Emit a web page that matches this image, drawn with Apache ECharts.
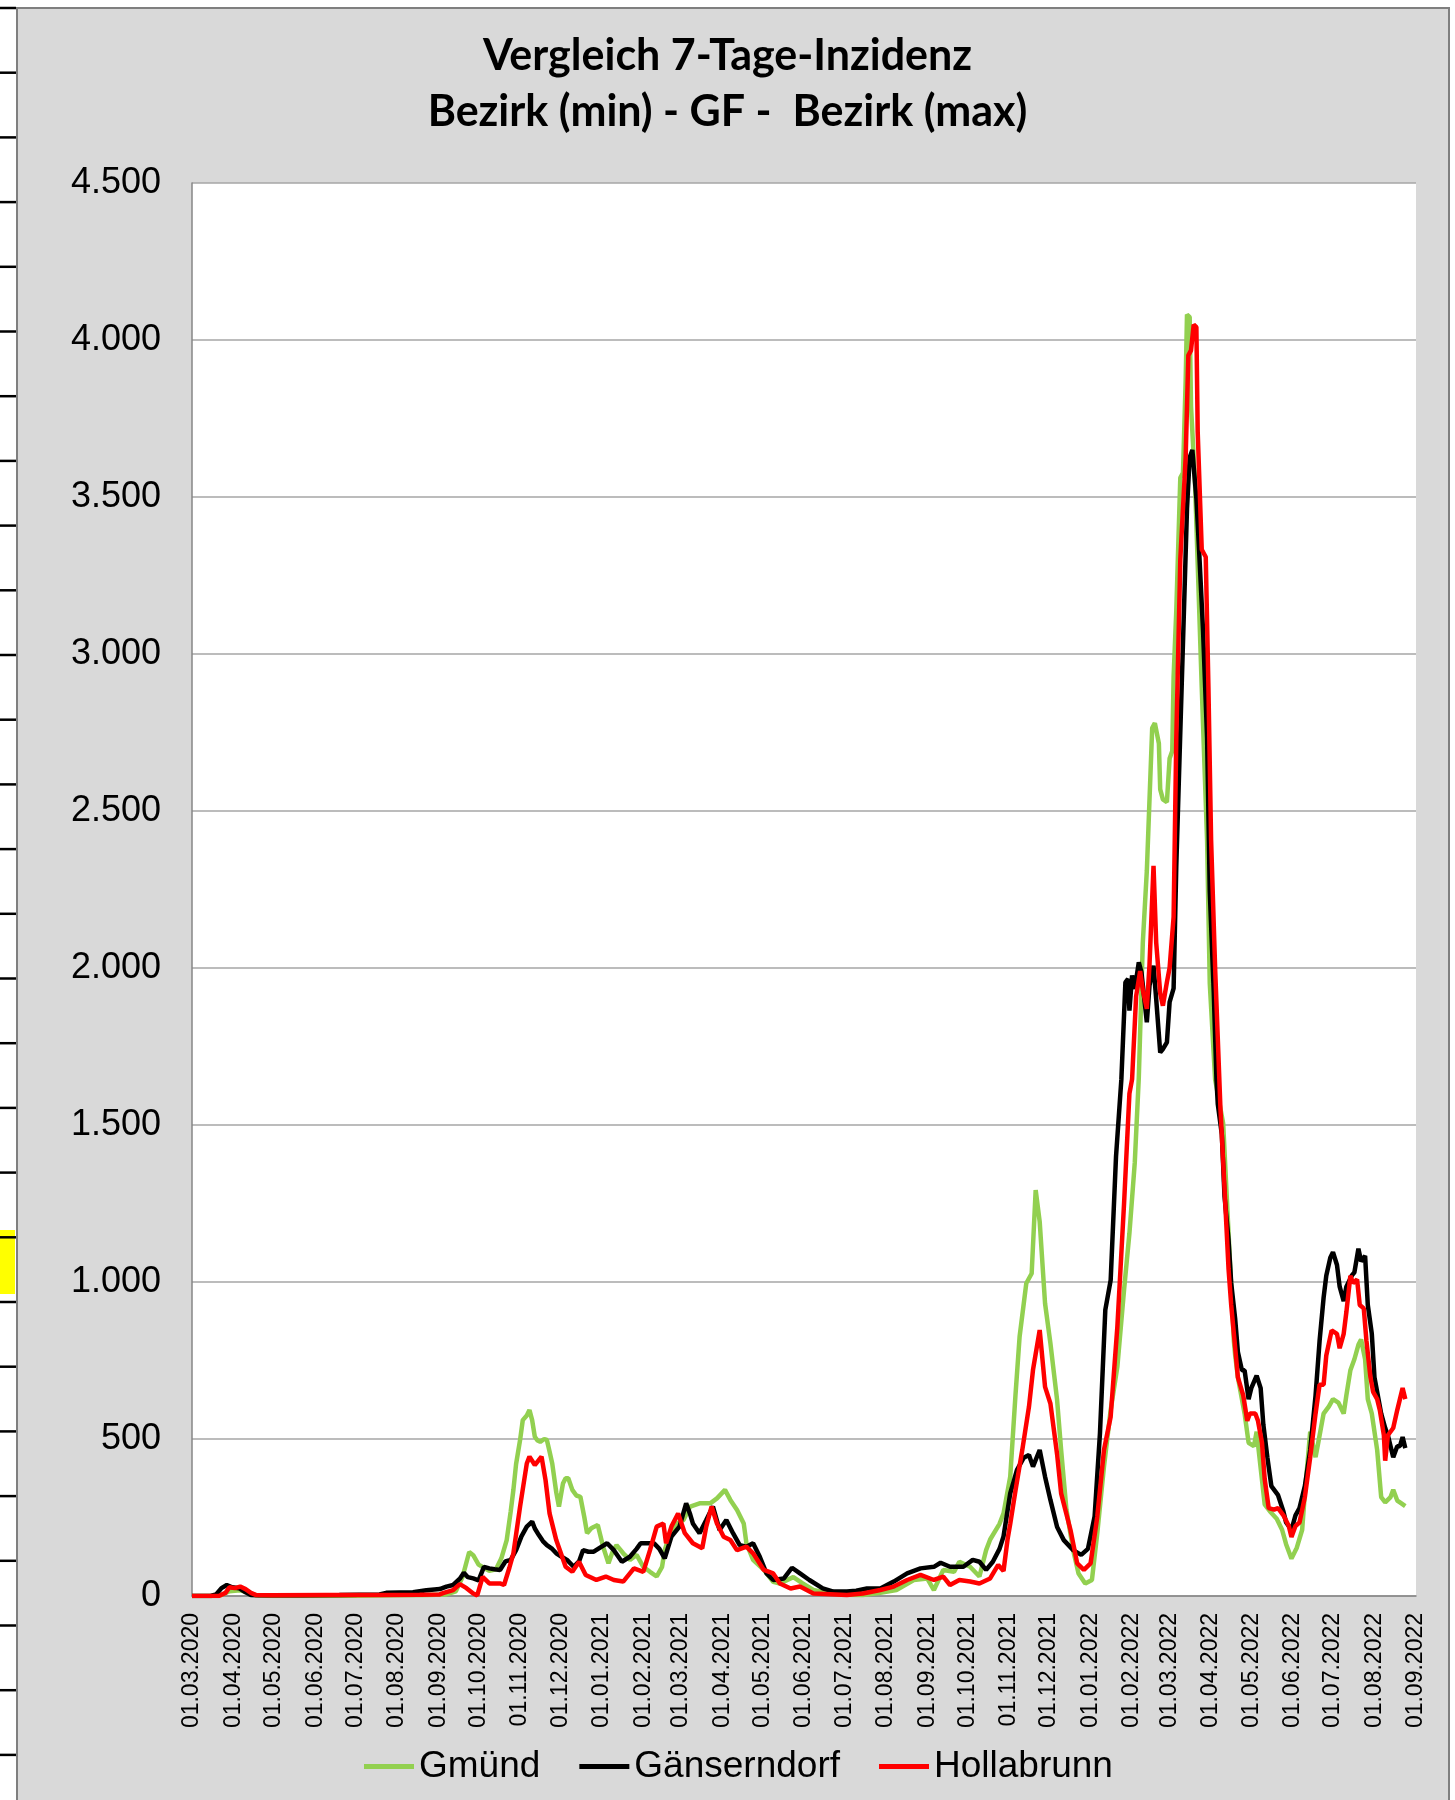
<!DOCTYPE html>
<html>
<head>
<meta charset="utf-8">
<script src="https://cdn.jsdelivr.net/npm/echarts@6/dist/echarts.min.js"></script>
<style>
html,body{margin:0;padding:0;background:#fff;}
#chart{width:1455px;height:1800px;}
</style>
</head>
<body>
<div id="chart"></div>
<script>
// ---- Data (x = days since 01.03.2020, y = 7-Tage-Inzidenz) ----
const seriesNames = ['Gmünd', 'Gänserndorf', 'Hollabrunn'];

const tickLabels = ['01.03.2020','01.04.2020','01.05.2020','01.06.2020','01.07.2020','01.08.2020','01.09.2020','01.10.2020','01.11.2020','01.12.2020',
  '01.01.2021','01.02.2021','01.03.2021','01.04.2021','01.05.2021','01.06.2021','01.07.2021','01.08.2021','01.09.2021','01.10.2021','01.11.2021','01.12.2021',
  '01.01.2022','01.02.2022','01.03.2022','01.04.2022','01.05.2022','01.06.2022','01.07.2022','01.08.2022','01.09.2022'];

const yTicks = [0, 500, 1000, 1500, 2000, 2500, 3000, 3500, 4000, 4500];

const gmuend = [
[0,0],[14,0],[22,3],[28,15],[36,18],[43,10],[48,2],[60,0],[90,0],[120,1],[150,2],[175,3],[190,5],[197,15],[202,60],[207,140],[210,130],[214,100],[218,90],[222,80],[227,85],[231,120],[235,178],[238,270],[240,338],[242,420],[245,497],[247,560],[250,575],[252,592],[254,560],[256,507],[258,495],[260,491],[263,500],[265,497],[267,460],[269,422],[272,330],[274,285],[277,358],[279,375],[281,375],[284,338],[287,320],[290,316],[293,250],[295,200],[298,215],[300,220],[303,226],[307,157],[311,104],[314,140],[317,162],[322,136],[327,115],[332,131],[337,93],[342,77],[347,62],[351,93],[353,146],[357,200],[362,231],[367,242],[372,285],[379,295],[387,295],[392,311],[398,338],[402,306],[407,274],[412,231],[414,168],[419,115],[427,83],[434,45],[439,40],[449,60],[456,40],[464,19],[476,8],[489,4],[501,3],[514,10],[526,19],[539,51],[549,56],[554,19],[561,83],[569,77],[573,109],[581,93],[588,62],[593,146],[596,180],[603,230],[606,263],[611,380],[615,645],[618,826],[623,996],[627,1027],[630,1293],[633,1192],[637,932],[641,805],[646,624],[649,465],[653,274],[658,146],[662,72],[667,40],[672,51],[676,200],[681,412],[686,592],[691,730],[696,975],[700,1155],[704,1380],[707,1650],[710,2081],[713,2309],[717,2764],[719,2780],[722,2715],[723,2569],[725,2537],[728,2528],[730,2667],[732,2691],[733,2927],[735,3138],[738,3561],[740,3577],[742,3870],[743,4081],[745,4073],[746,3789],[749,3545],[751,3285],[754,2894],[758,2407],[760,1951],[764,1645],[770,1505],[774,1158],[778,812],[779,766],[781,696],[786,581],[789,488],[793,477],[795,523],[798,408],[801,292],[805,269],[810,246],[814,211],[817,165],[821,119],[825,154],[829,211],[831,327],[835,523],[839,442],[841,488],[845,581],[849,604],[852,627],[856,616],[860,581],[862,639],[865,719],[868,754],[871,800],[873,817],[876,754],[878,627],[881,581],[885,465],[888,315],[891,298],[895,315],[897,338],[900,304],[902,298],[906,286]
];

const gaenserndorf = [
[0,0],[14,0],[18,5],[22,25],[26,35],[30,28],[35,25],[40,12],[44,3],[50,2],[80,2],[110,3],[140,5],[145,10],[165,12],[175,18],[185,22],[190,30],[195,35],[200,55],[203,74],[206,60],[210,56],[214,50],[218,93],[222,88],[226,85],[230,83],[234,110],[238,115],[242,146],[246,190],[250,221],[254,237],[256,215],[259,194],[262,175],[265,162],[269,150],[272,136],[276,125],[280,115],[285,93],[289,110],[292,146],[296,141],[300,141],[305,155],[310,168],[315,146],[321,109],[327,125],[332,150],[335,168],[340,168],[345,168],[349,150],[353,120],[358,189],[364,221],[369,295],[372,260],[374,231],[379,200],[384,242],[389,285],[394,210],[399,242],[404,200],[409,162],[414,157],[419,168],[424,125],[429,72],[434,51],[442,56],[448,90],[454,72],[461,51],[471,24],[479,14],[489,14],[496,17],[504,24],[514,24],[524,46],[534,72],[544,88],[554,93],[559,106],[566,93],[576,93],[583,115],[588,109],[593,83],[598,109],[603,150],[606,190],[611,327],[616,401],[621,440],[625,449],[628,412],[633,465],[637,380],[641,306],[646,220],[651,178],[658,146],[664,131],[669,150],[674,253],[678,518],[682,911],[686,1006],[690,1400],[694,1646],[697,1954],[699,1965],[700,1864],[702,1976],[704,1933],[707,2018],[709,1986],[713,1827],[715,1944],[718,2007],[720,1901],[723,1731],[725,1742],[728,1763],[730,1891],[733,1935],[735,2325],[739,2894],[743,3463],[745,3626],[747,3650],[749,3545],[750,3496],[752,3333],[755,3073],[758,2732],[760,2244],[763,1919],[765,1645],[766,1566],[769,1470],[771,1274],[774,1135],[776,997],[779,881],[781,777],[784,719],[786,719],[789,627],[791,662],[795,702],[798,662],[800,546],[803,442],[806,350],[811,321],[815,269],[817,234],[821,211],[824,257],[827,280],[831,350],[835,465],[839,639],[842,812],[845,950],[847,1020],[850,1077],[852,1095],[855,1054],[857,985],[860,939],[862,985],[866,1020],[868,1031],[871,1106],[873,1066],[876,1083],[878,927],[881,835],[883,696],[886,627],[888,581],[891,535],[893,512],[897,442],[900,477],[902,477],[904,506],[906,471]
];

const hollabrunn = [
[0,0],[20,0],[25,10],[28,28],[32,25],[36,30],[40,22],[44,10],[48,3],[60,2],[100,3],[140,3],[170,4],[185,5],[188,10],[195,19],[200,38],[205,25],[210,8],[213,2],[217,61],[222,40],[226,40],[230,40],[233,35],[237,90],[240,136],[245,285],[250,422],[252,444],[256,417],[261,444],[264,369],[267,263],[272,178],[279,93],[284,77],[289,109],[294,67],[302,51],[309,62],[315,51],[322,46],[330,88],[337,77],[342,146],[347,221],[352,231],[354,168],[358,221],[363,263],[368,200],[374,168],[381,152],[384,221],[388,285],[392,231],[397,189],[402,178],[407,146],[414,157],[419,136],[427,83],[434,72],[439,40],[447,24],[454,30],[464,8],[489,3],[501,8],[514,19],[524,30],[534,51],[544,67],[554,51],[561,62],[566,35],[573,51],[581,46],[588,40],[596,56],[602,99],[606,80],[609,180],[611,230],[615,338],[620,465],[625,603],[628,720],[633,847],[637,666],[641,613],[646,451],[649,327],[656,210],[661,104],[666,83],[671,104],[676,253],[681,465],[686,571],[691,858],[696,1250],[700,1600],[702,1646],[705,1910],[708,1990],[710,1930],[713,1870],[715,2010],[718,2325],[720,2081],[723,1919],[725,1880],[728,1955],[730,2000],[733,2163],[735,2732],[738,3301],[742,3626],[744,3951],[746,3967],[748,4049],[750,4041],[751,3707],[754,3333],[757,3309],[759,2894],[761,2407],[764,2000],[768,1550],[771,1300],[774,1043],[776,927],[779,789],[781,696],[785,639],[788,558],[790,581],[794,581],[796,558],[799,488],[801,373],[804,280],[808,275],[811,280],[815,257],[819,223],[821,188],[824,223],[827,234],[831,315],[835,442],[839,581],[842,673],[845,673],[847,766],[851,846],[855,835],[857,789],[860,835],[862,904],[865,1020],[867,997],[870,1008],[872,927],[875,916],[877,812],[880,696],[882,650],[885,627],[887,592],[890,512],[891,431],[893,512],[897,535],[900,592],[902,627],[904,662],[906,627]
];

// ---- Helpers ----
function dayOf(s) {
  const p = s.split('.').map(Number);
  return Math.round((Date.UTC(p[2], p[1] - 1, p[0]) - Date.UTC(2020, 2, 1)) / 86400000);
}
const tickDays = tickLabels.map(dayOf);
const labelByDay = {};
tickDays.forEach((d, i) => { labelByDay[d] = tickLabels[i]; });
function fmtThousands(v) {
  if (v < 1000) return String(v);
  const t = Math.floor(v / 1000), r = v % 1000;
  return t + '.' + String(r).padStart(3, '0');
}

// ---- Decorative spreadsheet edge ----
const W = 1455, H = 1800;
const graphics = [
  { type: 'rect', shape: { x: 0, y: 0, width: 17, height: H }, style: { fill: '#ffffff' }, silent: true },
  { type: 'rect', shape: { x: 0, y: 0, width: W, height: 8 }, style: { fill: '#ffffff' }, silent: true },
  { type: 'rect', shape: { x: 1450, y: 0, width: 5, height: H }, style: { fill: '#ffffff' }, silent: true },
  { type: 'rect', shape: { x: 0, y: 1230, width: 15, height: 64 }, style: { fill: '#ffff00' }, silent: true },
  { type: 'polyline', shape: { points: [[17, H], [17, 8], [1449, 8], [1449, H]] }, style: { stroke: '#7f7f7f', lineWidth: 2, fill: null }, silent: true }
];
for (let k = 0; k < 28; k++) {
  const y = 8 + k * 64.7;
  graphics.push({ type: 'line', shape: { x1: 0, y1: y, x2: 16, y2: y }, style: { stroke: '#000', lineWidth: 2.5 }, silent: true });
}

const chart = echarts.init(document.getElementById('chart'), null, { renderer: 'canvas', width: W, height: H });
chart.setOption({
  animation: false,
  backgroundColor: '#d9d9d9',
  graphic: graphics,
  title: {
    text: 'Vergleich 7-Tage-Inzidenz\nBezirk (min) - GF -  Bezirk (max)',
    left: 'center',
    top: 28,
    padding: 0,
    textStyle: { fontFamily: 'Lato', fontWeight: 'bold', fontSize: 43, lineHeight: 56, color: '#000' }
  },
  legend: {
    data: seriesNames,
    left: 364,
    top: 1748,
    padding: 0,
    icon: 'rect',
    itemWidth: 50,
    itemHeight: 5,
    itemGap: 39,
    textStyle: { fontFamily: 'Liberation Sans', fontSize: 37, color: '#000' }
  },
  grid: {
    left: 192, right: 39, top: 183, bottom: 204,
    show: true, backgroundColor: '#ffffff', borderWidth: 0, containLabel: false
  },
  xAxis: {
    type: 'value',
    min: 0,
    max: tickDays[tickDays.length - 1],
    axisLine: { show: true, lineStyle: { color: '#868686', width: 1.5 } },
    axisTick: { show: false },
    splitLine: { show: false },
    axisLabel: {
      customValues: tickDays,
      formatter: v => labelByDay[v] || '',
      rotate: 90,
      margin: 17,
      fontFamily: 'Liberation Sans',
      fontSize: 23,
      color: '#000'
    }
  },
  yAxis: {
    type: 'value',
    min: yTicks[0],
    max: yTicks[yTicks.length - 1],
    interval: 500,
    axisLine: { show: true, lineStyle: { color: '#868686', width: 1.5 } },
    axisTick: { show: false },
    splitLine: { show: true, lineStyle: { color: '#a6a6a6', width: 1.5 } },
    axisLabel: {
      formatter: fmtThousands,
      margin: 31,
      fontFamily: 'Liberation Sans',
      fontSize: 36,
      color: '#000'
    }
  },
  series: [
    { name: seriesNames[0], type: 'line', data: gmuend, showSymbol: false, symbol: 'none', lineStyle: { color: '#92d050', width: 4.5 }, itemStyle: { color: '#92d050' } },
    { name: seriesNames[1], type: 'line', data: gaenserndorf, showSymbol: false, symbol: 'none', lineStyle: { color: '#000000', width: 4.5 }, itemStyle: { color: '#000000' } },
    { name: seriesNames[2], type: 'line', data: hollabrunn, showSymbol: false, symbol: 'none', lineStyle: { color: '#ff0000', width: 4.5 }, itemStyle: { color: '#ff0000' } }
  ]
});
</script>
</body>
</html>
